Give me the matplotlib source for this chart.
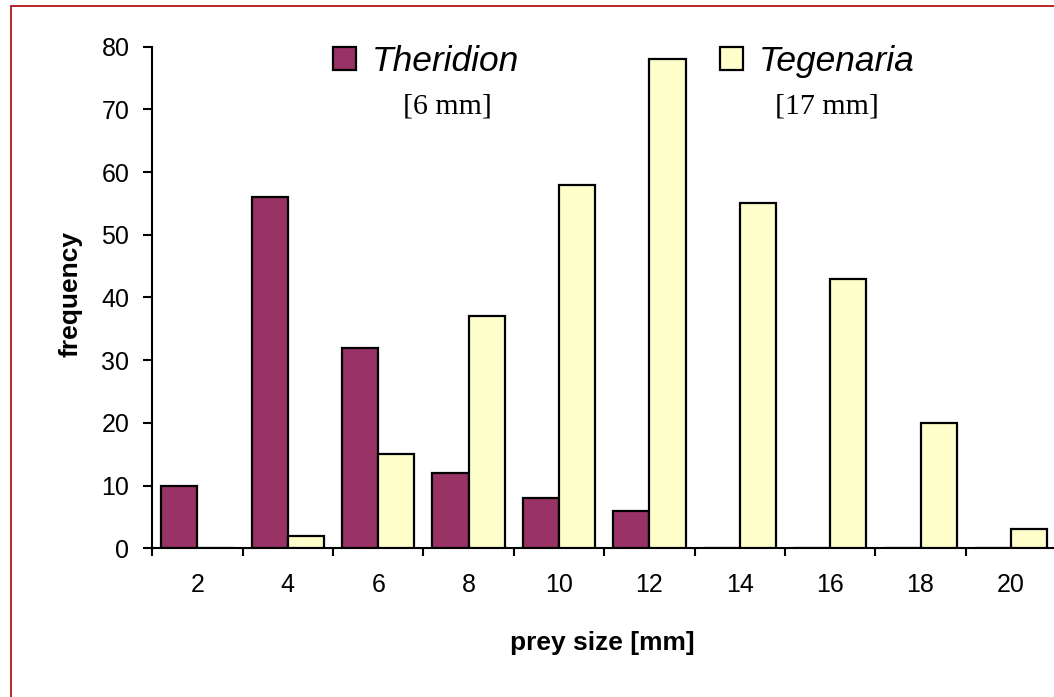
import matplotlib
matplotlib.use("Agg")
import matplotlib.pyplot as plt
from matplotlib.patches import Patch, Rectangle
import numpy as np

plt.rcParams['font.family'] = ['Liberation Sans', 'DejaVu Sans']

categories = ['2', '4', '6', '8', '10', '12', '14', '16', '18', '20']
theridion = [10, 56, 32, 12, 8, 6, 0, 0, 0, 0]
tegenaria = [0, 2, 15, 37, 58, 78, 55, 43, 20, 3]
series_names = ['Theridion', 'Tegenaria']
series_notes = ['[6 mm]', '[17 mm]']
colors = ['#993366', '#FFFFCC']

W, H = 1054, 697
fig = plt.figure(figsize=(W / 100, H / 100), dpi=100)
fig.patch.set_facecolor('white')

# outer border (cropped on right/bottom like reference)
fig.patches.append(Rectangle((10.5 / W, -0.05), 1.1, 1 - 6 / H + 0.05,
                             transform=fig.transFigure, fill=False,
                             edgecolor='#B01515', linewidth=1.3))

ax = fig.add_axes([152.3 / W, (H - 548.3) / H, 903.8 / W, 501.6 / H])
x = np.arange(len(categories))
w = 0.4
ax.bar(x - w / 2, theridion, width=w, color=colors[0], edgecolor='black',
       linewidth=1.6, label=series_names[0], zorder=3)
ax.bar(x + w / 2, tegenaria, width=w, color=colors[1], edgecolor='black',
       linewidth=1.6, label=series_names[1], zorder=3)

ax.set_xlim(-0.5, len(categories) - 0.5)
ax.set_ylim(0, 80)
ax.set_yticks(np.arange(0, 81, 10))
ax.set_xticks(x)
ax.set_xticklabels(categories)
ax.set_xticks(np.arange(-0.5, len(categories), 1), minor=True)
ax.tick_params(axis='x', which='major', length=0, pad=18, labelsize=18)
ax.tick_params(axis='x', which='minor', length=6, width=1.5, direction='out')
ax.tick_params(axis='y', length=6.5, width=1.5, direction='out', pad=10, labelsize=18)

for s in ['top', 'right']:
    ax.spines[s].set_visible(False)
for s in ['left', 'bottom']:
    ax.spines[s].set_linewidth(1.5)

fig.text(70.5 / W, (H - 294) / H, 'frequency', fontsize=19, fontweight='bold',
         rotation=90, ha='center', va='center')

fig.text(602 / W, (H - 650) / H, 'prey size [mm]', fontsize=19, fontweight='bold',
         ha='center', va='baseline')

handles = [Patch(facecolor=colors[0], edgecolor='black', linewidth=1.6),
           Patch(facecolor=colors[1], edgecolor='black', linewidth=1.6)]
leg = fig.legend(handles, series_names, ncol=2, frameon=False,
                 loc='upper left', bbox_to_anchor=(333 / W, (H - 45) / H),
                 bbox_transform=fig.transFigure, borderpad=0, borderaxespad=0,
                 handlelength=0.65, handleheight=0.65, handletextpad=0.45,
                 columnspacing=5.66,
                 prop={'family': 'Liberation Sans', 'style': 'italic', 'size': 25.5})

fig.text(447 / W, (H - 113) / H, series_notes[0], fontsize=21.5,
         family='Liberation Serif', ha='center', va='baseline')
fig.text(827 / W, (H - 113) / H, series_notes[1], fontsize=21.5,
         family='Liberation Serif', ha='center', va='baseline')

fig.savefig('out.png', dpi=100)
